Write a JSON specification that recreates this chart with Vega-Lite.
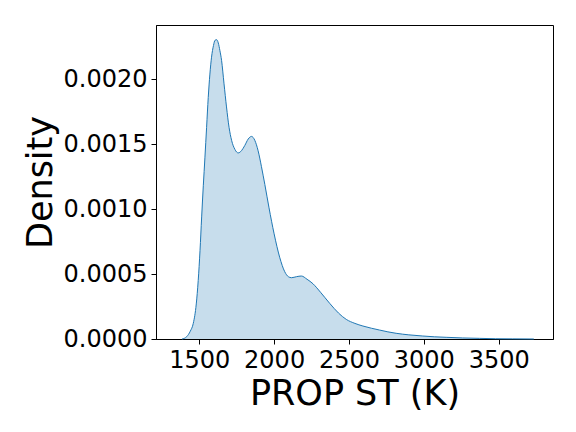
{
  "$schema": "https://vega.github.io/schema/vega-lite/v6.json",
  "autosize": "none",
  "width": 397,
  "height": 314,
  "padding": {"left": 156, "top": 25, "right": 23, "bottom": 93},
  "background": "white",
  "data": {
    "values": [
      {"temp": 1385, "density": 0},
      {"temp": 1400, "density": 0.000005},
      {"temp": 1416, "density": 0.000018},
      {"temp": 1440, "density": 0.00006},
      {"temp": 1460, "density": 0.00012},
      {"temp": 1480, "density": 0.00027},
      {"temp": 1493, "density": 0.00045},
      {"temp": 1505, "density": 0.00068},
      {"temp": 1516, "density": 0.00094},
      {"temp": 1527, "density": 0.00118},
      {"temp": 1538, "density": 0.0014},
      {"temp": 1549, "density": 0.00163},
      {"temp": 1560, "density": 0.00186},
      {"temp": 1571, "density": 0.00204},
      {"temp": 1582, "density": 0.00217},
      {"temp": 1595, "density": 0.00226},
      {"temp": 1605, "density": 0.0023},
      {"temp": 1616, "density": 0.002305},
      {"temp": 1627, "density": 0.00228},
      {"temp": 1638, "density": 0.00222},
      {"temp": 1649, "density": 0.002146},
      {"temp": 1665, "density": 0.00197},
      {"temp": 1682, "density": 0.001787},
      {"temp": 1699, "density": 0.00163},
      {"temp": 1716, "density": 0.00153},
      {"temp": 1738, "density": 0.00146},
      {"temp": 1760, "density": 0.001433},
      {"temp": 1782, "density": 0.00145},
      {"temp": 1804, "density": 0.00149},
      {"temp": 1827, "density": 0.00154},
      {"temp": 1849, "density": 0.00156},
      {"temp": 1871, "density": 0.00153},
      {"temp": 1893, "density": 0.00145},
      {"temp": 1915, "density": 0.00133},
      {"temp": 1938, "density": 0.00119},
      {"temp": 1966, "density": 0.00101},
      {"temp": 2000, "density": 0.00081},
      {"temp": 2037, "density": 0.00063},
      {"temp": 2071, "density": 0.000518},
      {"temp": 2095, "density": 0.00048},
      {"temp": 2116, "density": 0.000472},
      {"temp": 2150, "density": 0.00048},
      {"temp": 2182, "density": 0.000485},
      {"temp": 2220, "density": 0.00046},
      {"temp": 2260, "density": 0.000425},
      {"temp": 2310, "density": 0.00036},
      {"temp": 2371, "density": 0.000275},
      {"temp": 2430, "density": 0.0002},
      {"temp": 2482, "density": 0.000151},
      {"temp": 2540, "density": 0.00012},
      {"temp": 2593, "density": 0.0001},
      {"temp": 2650, "density": 0.000083},
      {"temp": 2704, "density": 0.000069},
      {"temp": 2760, "density": 0.000055},
      {"temp": 2815, "density": 0.000044},
      {"temp": 2900, "density": 0.000032},
      {"temp": 2993, "density": 0.000023},
      {"temp": 3070, "density": 0.000017},
      {"temp": 3149, "density": 0.000013},
      {"temp": 3260, "density": 0.000008},
      {"temp": 3371, "density": 0.000005},
      {"temp": 3480, "density": 0.000002},
      {"temp": 3591, "density": 0.000001},
      {"temp": 3735, "density": 0}
    ]
  },
  "mark": {
    "type": "area",
    "interpolate": "monotone",
    "color": "#1f77b4",
    "fillOpacity": 0.25,
    "line": {"color": "#1f77b4", "strokeWidth": 1}
  },
  "encoding": {
    "x": {
      "field": "temp",
      "type": "quantitative",
      "title": "PROP ST (K)",
      "scale": {"domain": [1211, 3863], "nice": false, "zero": false},
      "axis": {"values": [1500, 2000, 2500, 3000, 3500], "format": "d", "titlePadding": 4}
    },
    "y": {
      "field": "density",
      "type": "quantitative",
      "title": "Density",
      "scale": {"domain": [0, 0.002418], "nice": false},
      "axis": {"values": [0, 0.0005, 0.001, 0.0015, 0.002], "format": ".4f", "titlePadding": 5}
    }
  },
  "config": {
    "view": {"stroke": "black", "strokeWidth": 1},
    "axis": {
      "grid": false,
      "domainColor": "black",
      "domainWidth": 1,
      "tickColor": "black",
      "tickSize": 5,
      "tickWidth": 1,
      "labelColor": "black",
      "labelFont": "DejaVu Sans",
      "labelFontSize": 24,
      "labelPadding": 4,
      "titleColor": "black",
      "titleFont": "DejaVu Sans",
      "titleFontSize": 35,
      "titleFontWeight": "normal"
    }
  }
}
